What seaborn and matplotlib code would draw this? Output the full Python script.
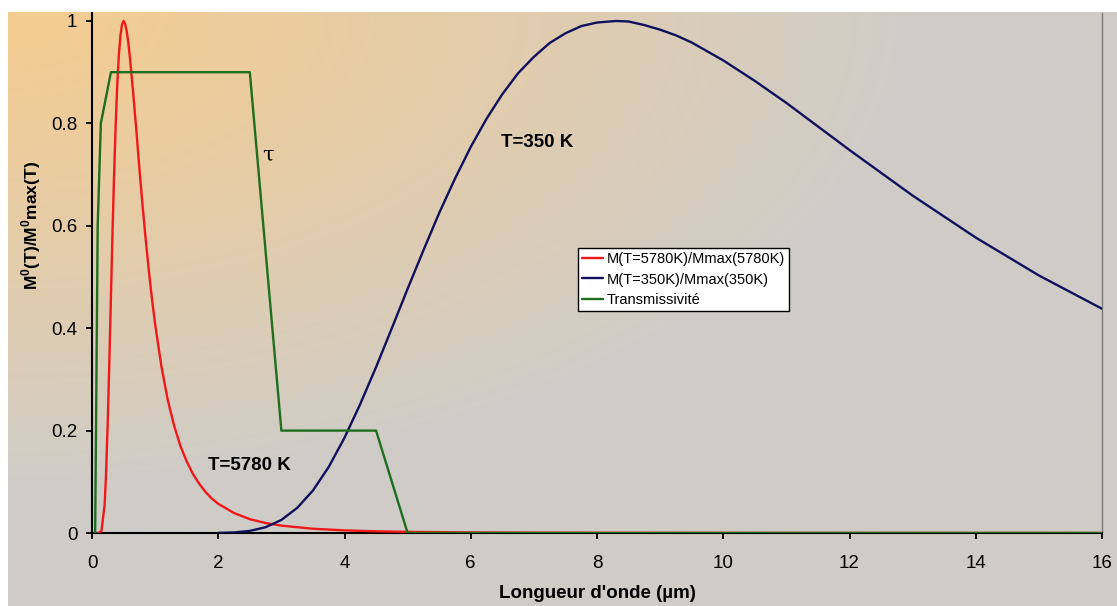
import numpy as np
import pandas as pd
import matplotlib
matplotlib.use("Agg")
import matplotlib.pyplot as plt
from matplotlib.ticker import FuncFormatter
import seaborn as sns

# ---- data ----
lam_sun = [0.10, 0.15, 0.20, 0.22, 0.25, 0.275, 0.30, 0.325, 0.35, 0.375, 0.40, 0.425,
           0.45, 0.475, 0.50, 0.525, 0.55, 0.575, 0.60, 0.65, 0.70, 0.75, 0.80, 0.85,
           0.90, 0.95, 1.00, 1.10, 1.20, 1.30, 1.40, 1.50, 1.60, 1.70, 1.80, 1.90,
           2.00, 2.25, 2.50, 2.75, 3.00, 3.50, 4.00, 4.50, 5.00, 6.00, 7.00, 8.00,
           10.0, 12.0, 16.0]
m_sun = [0.0, 0.004, 0.055, 0.107, 0.219, 0.336, 0.462, 0.588, 0.700, 0.797, 0.875, 0.933,
         0.971, 0.993, 1.000, 0.994, 0.980, 0.958, 0.929, 0.863, 0.790, 0.713, 0.641, 0.574,
         0.513, 0.457, 0.408, 0.325, 0.260, 0.210, 0.170, 0.140, 0.115, 0.096, 0.080, 0.067,
         0.057, 0.039, 0.027, 0.0195, 0.0144, 0.0083, 0.0051, 0.0033, 0.0022, 0.0011, 0.0006,
         0.0004, 0.0002, 0.0001, 0.0]

lam_earth = [2.0, 2.25, 2.5, 2.75, 3.0, 3.25, 3.5, 3.75, 4.0, 4.25, 4.5, 4.75, 5.0, 5.25,
             5.5, 5.75, 6.0, 6.25, 6.5, 6.75, 7.0, 7.25, 7.5, 7.75, 8.0, 8.3, 8.5, 8.75,
             9.0, 9.25, 9.5, 10.0, 10.5, 11.0, 11.5, 12.0, 13.0, 14.0, 15.0, 16.0]
m_earth = [0.0002, 0.0011, 0.0041, 0.0113, 0.0255, 0.049, 0.083, 0.129, 0.186, 0.252,
           0.324, 0.400, 0.477, 0.552, 0.625, 0.692, 0.754, 0.809, 0.857, 0.898, 0.930,
           0.957, 0.976, 0.990, 0.997, 1.000, 0.999, 0.992, 0.983, 0.972, 0.958, 0.923,
           0.883, 0.840, 0.794, 0.748, 0.659, 0.577, 0.503, 0.438]

lam_tau = [0.05, 0.09, 0.14, 0.30, 2.50, 3.00, 4.50, 5.00, 16.0]
tau = [0.0, 0.6, 0.8, 0.9, 0.9, 0.2, 0.2, 0.0, 0.0]

x_ticks = [0, 2, 4, 6, 8, 10, 12, 14, 16]
y_ticks = [0, 0.2, 0.4, 0.6, 0.8, 1.0]

labels = ["M(T=5780K)/Mmax(5780K)", "M(T=350K)/Mmax(350K)", "Transmissivité"]

# ---- figure ----
sns.set_theme(style="white")
plt.rcParams["font.family"] = ["Liberation Sans", "DejaVu Sans"]
plt.rcParams["mathtext.fontset"] = "custom"
plt.rcParams["mathtext.rm"] = "Liberation Sans"
plt.rcParams["mathtext.bf"] = "Liberation Sans:bold"
for k in ["text.color", "axes.labelcolor", "xtick.color", "ytick.color"]:
    plt.rcParams[k] = "black"

W, H = 1117, 606
fig = plt.figure(figsize=(W / 100, H / 100), dpi=100)
fig.patch.set_facecolor("white")

# gradient background
bg = fig.add_axes([8 / W, 0, 1 - 8 / W, 1 - 12 / H], zorder=-5)
gx = np.linspace(0, 1, 400)
gy = np.linspace(0, 1, 250)
GX, GY = np.meshgrid(gx, gy)
t = np.sqrt((GX / 0.82) ** 2 + (GY / 0.80) ** 2)
t = np.clip(t, 0, 1) ** 1.15
c0 = np.array([244, 205, 145]) / 255.0
c1 = np.array([207, 204, 200]) / 255.0
img = c0[None, None, :] + (c1 - c0)[None, None, :] * t[..., None]
bg.imshow(img, aspect="auto", extent=[0, 1, 0, 1], origin="upper")
bg.set_axis_off()

ax = fig.add_axes([92 / W, 1 - 533 / H, 1010 / W, 520 / H])
ax.set_facecolor("none")

sns.lineplot(x=lam_sun, y=m_sun, ax=ax, color="#F01818", lw=1.7, label=labels[0], zorder=3)
sns.lineplot(x=lam_earth, y=m_earth, ax=ax, color="#10105C", lw=1.7, label=labels[1], zorder=3)
sns.lineplot(x=lam_tau, y=tau, ax=ax, color="#1E6E1E", lw=1.7, label=labels[2], zorder=4)

ax.set_xlim(0, 16)
ax.set_ylim(0, 1.0156)
ax.set_xticks(x_ticks)
ax.set_yticks(y_ticks)
ax.yaxis.set_major_formatter(FuncFormatter(lambda v, p: "%g" % v))
ax.xaxis.set_major_formatter(FuncFormatter(lambda v, p: "%g" % v))
ax.tick_params(axis="both", direction="out", length=4.5, width=1.3, color="black",
               labelcolor="black", labelsize=13.5, pad=6, bottom=True, left=True)
ax.tick_params(axis="x", pad=11)

for s in ["left", "bottom"]:
    ax.spines[s].set_color("black")
    ax.spines[s].set_linewidth(1.5)
ax.spines["top"].set_visible(False)
ax.spines["right"].set_color("#7a7a7a")
ax.spines["right"].set_linewidth(1.0)

ax.set_xlabel("Longueur d'onde (µm)", fontsize=13.5, fontweight="bold", labelpad=10)
ax.set_ylabel(r"M$^\mathbf{0}$(T)/M$^\mathbf{0}$max(T)", fontsize=12.5, fontweight="bold")
ax.yaxis.set_label_coords(-0.049, 0.592)

ax.text(2.79, 0.738, "τ", fontsize=15, family=["DejaVu Serif"], ha="center", va="center")
ax.text(7.05, 0.762, "T=350 K", fontsize=13.5, fontweight="bold", ha="center", va="center")
ax.text(2.49, 0.132, "T=5780 K", fontsize=13.5, fontweight="bold", ha="center", va="center")

leg = ax.legend(loc="upper left", bbox_to_anchor=(578 / W, 1 - 248 / H),
                bbox_transform=fig.transFigure, fontsize=10.5, frameon=True,
                fancybox=False, framealpha=1, edgecolor="black", facecolor="white",
                handlelength=1.4, handletextpad=0.25, labelspacing=0.42,
                borderpad=0.3, borderaxespad=0)
leg.get_frame().set_linewidth(1.0)

fig.savefig("out.png", dpi=100)
